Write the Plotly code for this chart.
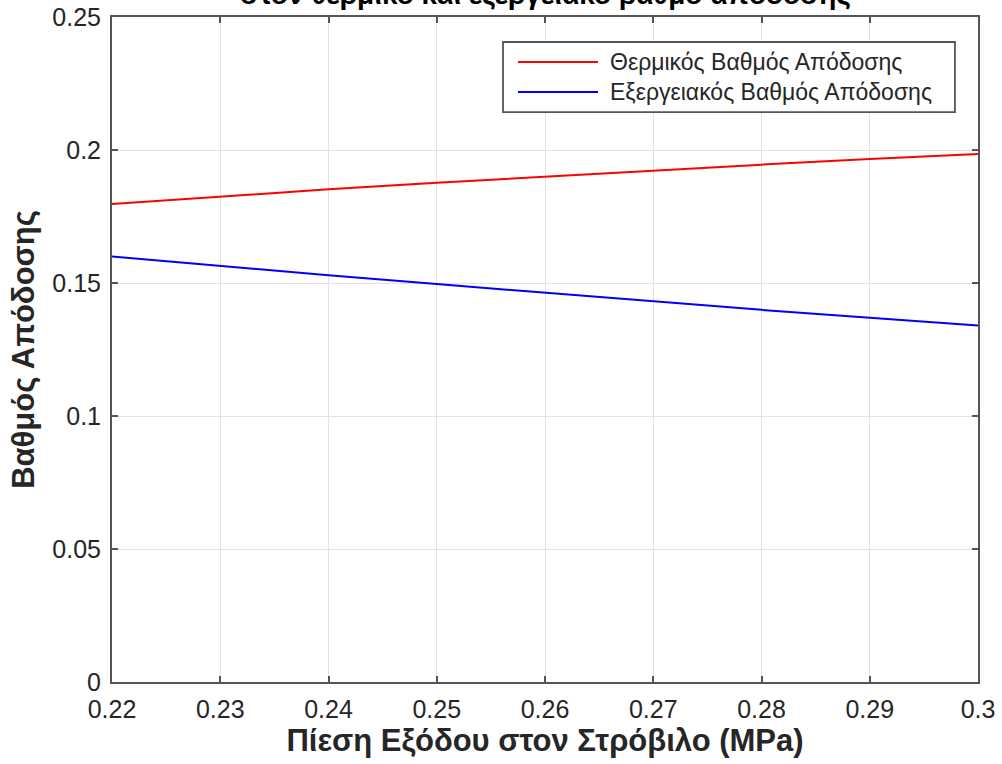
import plotly.graph_objects as go

# Turbine exit pressure (MPa)
pressure = [0.22, 0.23, 0.24, 0.25, 0.26, 0.27, 0.28, 0.29, 0.30]
# Thermal efficiency
eta_thermal = [0.1797, 0.1825, 0.1852, 0.1877, 0.1900, 0.1923, 0.1945, 0.1966, 0.1985]
# Exergy efficiency
eta_exergy = [0.1600, 0.1564, 0.1529, 0.1496, 0.1463, 0.1430, 0.1399, 0.1369, 0.1340]

series_names = ["Θερμικός Βαθμός Απόδοσης", "Εξεργειακός Βαθμός Απόδοσης"]
series_colors = ["#ff0000", "#0000ff"]

x_ticks = [0.22, 0.23, 0.24, 0.25, 0.26, 0.27, 0.28, 0.29, 0.30]
x_tick_text = ["0.22", "0.23", "0.24", "0.25", "0.26", "0.27", "0.28", "0.29", "0.3"]
y_ticks = [0, 0.05, 0.10, 0.15, 0.20, 0.25]
y_tick_text = ["0", "0.05", "0.1", "0.15", "0.2", "0.25"]

FONT = "Liberation Sans, Arial, Helvetica, sans-serif"
TEXT_COLOR = "#262626"
AXIS_COLOR = "#555555"

fig = go.Figure()
for name, color, values in zip(series_names, series_colors, [eta_thermal, eta_exergy]):
    fig.add_trace(go.Scatter(
        x=pressure, y=values, mode="lines", name=name,
        line=dict(color=color, width=2), showlegend=False,
    ))

axis_common = dict(
    showline=True, mirror="ticks", linecolor=AXIS_COLOR, linewidth=2,
    ticks="inside", ticklen=6, tickwidth=1.5, tickcolor=AXIS_COLOR,
    showgrid=True, gridcolor="#e2e2e2", gridwidth=1.2,
    zeroline=False, automargin=False,
    tickfont=dict(family=FONT, size=25, color=TEXT_COLOR),
)

fig.update_xaxes(
    range=[0.22, 0.30], tickvals=x_ticks, ticktext=x_tick_text,
    ticklabelstandoff=4,
    title=dict(text="<b>Πίεση Εξόδου στον Στρόβιλο (MPa)</b>",
               font=dict(family=FONT, size=31, color=TEXT_COLOR), standoff=6),
    **axis_common,
)
fig.update_yaxes(
    range=[0, 0.25], tickvals=y_ticks, ticktext=y_tick_text,
    ticklabelstandoff=4,
    title=dict(text="<b>Βαθμός Απόδοσης</b>",
               font=dict(family=FONT, size=31, color=TEXT_COLOR), standoff=8),
    **axis_common,
)

# Title sits above the axes box
fig.add_annotation(
    text="<b>Επίδραση της πίεσης εξόδου<br>στον θερμικό και εξεργειακό βαθμό απόδοσης</b>",
    xref="paper", yref="paper", x=0.5, y=1, xanchor="center", yanchor="bottom",
    yshift=5, showarrow=False,
    font=dict(family=FONT, size=28, color="#000000"),
)

# Boxed legend in the upper right of the axes
LEG_X0, LEG_X1, LEG_Y0, LEG_Y1 = 0.4515, 0.9734, 0.8571, 0.9624
fig.add_shape(type="rect", xref="paper", yref="paper",
              x0=LEG_X0, x1=LEG_X1, y0=LEG_Y0, y1=LEG_Y1,
              line=dict(color="#555555", width=1.8), fillcolor="white", layer="above")
legend_rows_y = [0.9323, 0.8872]
for name, color, ly in zip(series_names, series_colors, legend_rows_y):
    fig.add_shape(type="line", xref="paper", yref="paper",
                  x0=0.4688, x1=0.5612, y0=ly, y1=ly,
                  line=dict(color=color, width=2), layer="above")
    fig.add_annotation(text=name, xref="paper", yref="paper",
                       x=0.5727, y=ly, xanchor="left", yanchor="middle",
                       showarrow=False,
                       font=dict(family=FONT, size=23, color=TEXT_COLOR))

fig.update_layout(
    width=1002, height=764,
    margin=dict(l=112, r=24, t=17, b=82),
    paper_bgcolor="white", plot_bgcolor="white",
    font=dict(family=FONT, color=TEXT_COLOR),
    showlegend=False,
)

fig.write_html("out.html")
